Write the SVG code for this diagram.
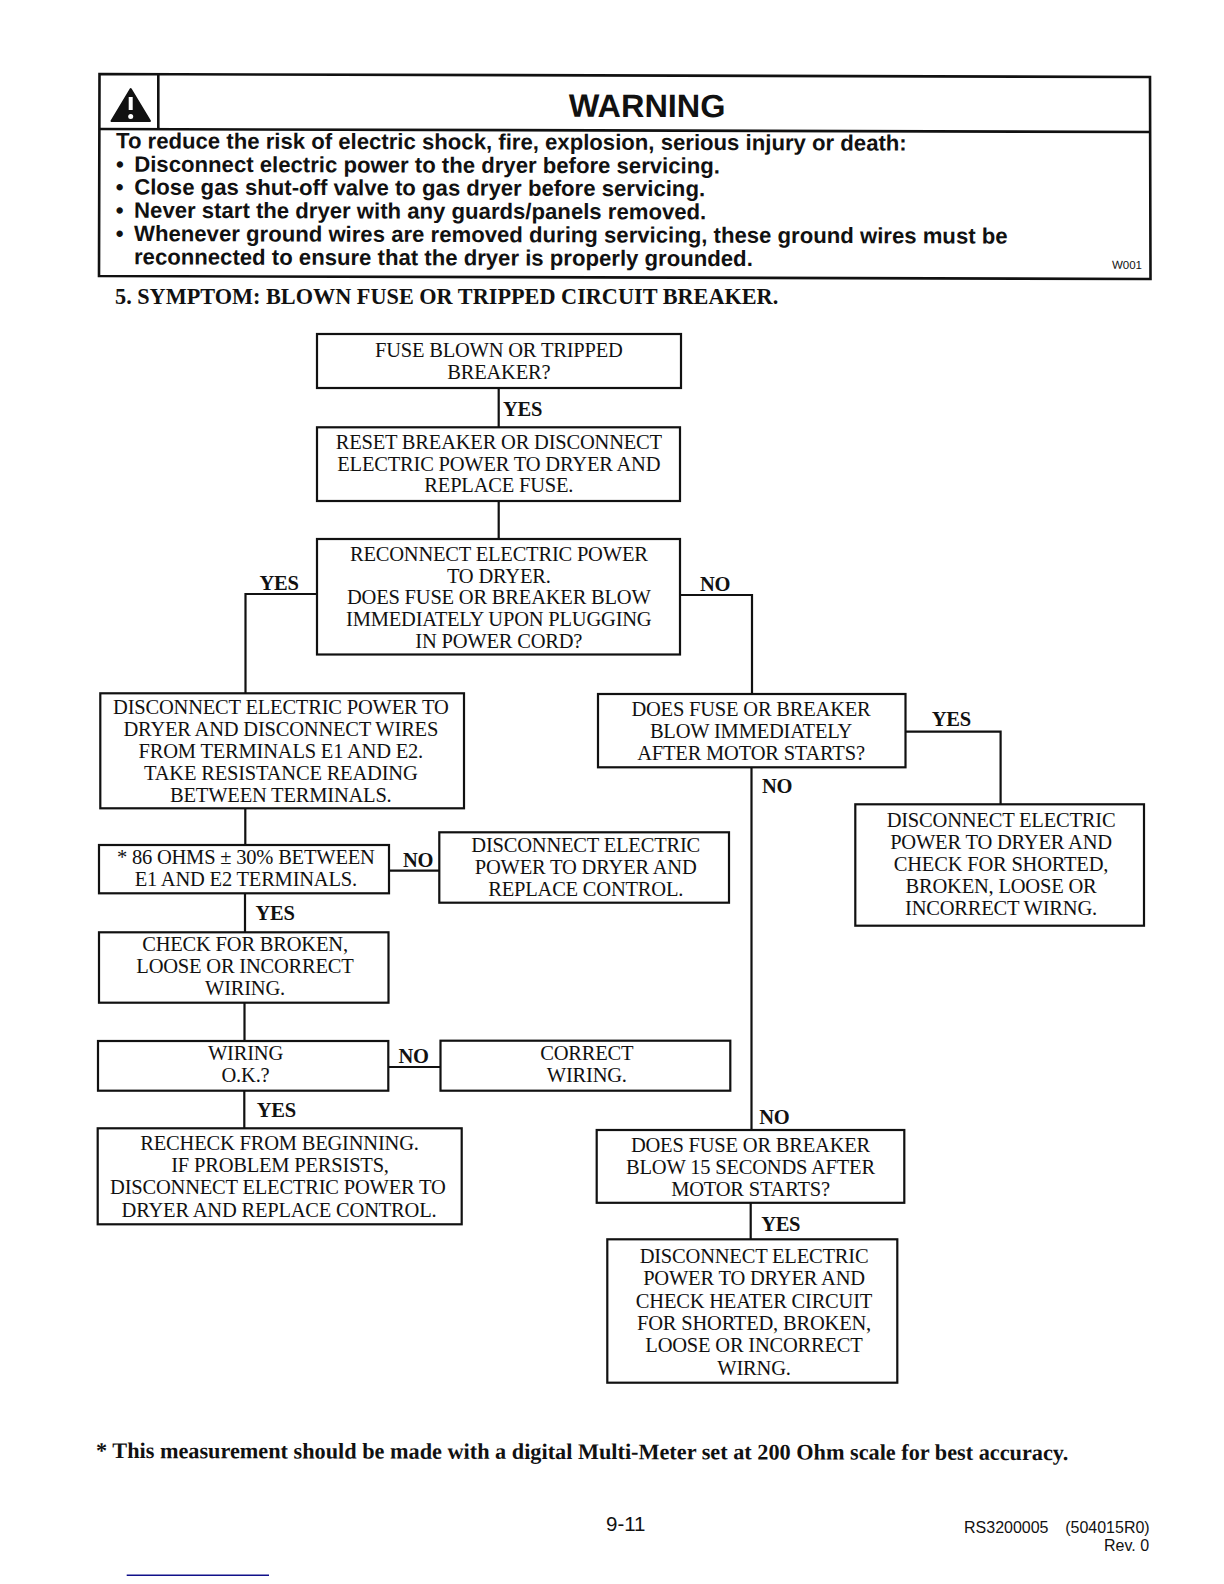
<svg xmlns="http://www.w3.org/2000/svg" width="1224" height="1584" viewBox="0 0 1224 1584">
<style>
.b{fill:#fff;stroke:#111;stroke-width:2.2}
.c{fill:none;stroke:#111;stroke-width:2.2}
.t{font-family:"Liberation Serif",serif;font-size:20.5px;fill:#111;text-anchor:middle;letter-spacing:-.2px}
.l{font-family:"Liberation Serif",serif;font-size:20.5px;font-weight:bold;fill:#111;letter-spacing:-.3px}
.w{font-family:"Liberation Sans",sans-serif;font-size:22.15px;font-weight:bold;fill:#111}
.f{font-family:"Liberation Sans",sans-serif;fill:#111}
.s{font-family:"Liberation Serif",serif;font-size:22.25px;font-weight:bold;fill:#111}
</style>
<rect width="1224" height="1584" fill="#fff"/>
<g id="warning">
<path class="c" d="M99.5 74L1150 77L1150.5 279L99 276Z" style="stroke-width:2.6"/>
<path class="c" d="M158.3 74V129M100 129L1150 132" style="stroke-width:2.6"/>
<path d="M130.7 89L150 121H111.5Z" fill="#111" stroke="#111" stroke-width="2" stroke-linejoin="round"/>
<path d="M130.7 97V110" stroke="#fff" stroke-width="4"/><circle cx="130.7" cy="116.5" r="2.5" fill="#fff"/>
<g transform="rotate(.165 116 148)">
<text x="647" y="115.5" text-anchor="middle" class="f" font-size="32.4" font-weight="bold">WARNING</text>
<text class="w"><tspan x="116" y="148.3">To reduce the risk of electric shock, fire, explosion, serious injury or death:</tspan><tspan x="116" y="171.7">•</tspan><tspan x="134.3" y="171.7">Disconnect electric power to the dryer before servicing.</tspan><tspan x="116" y="194.5">•</tspan><tspan x="134.3" y="194.5">Close gas shut-off valve to gas dryer before servicing.</tspan><tspan x="116" y="217.7">•</tspan><tspan x="134.3" y="217.7">Never start the dryer with any guards/panels removed.</tspan><tspan x="116" y="241">•</tspan><tspan x="134.3" y="241">Whenever ground wires are removed during servicing, these ground wires must be</tspan><tspan x="134.3" y="264.3">reconnected to ensure that the dryer is properly grounded.</tspan></text>
<text class="f" x="1112.3" y="266" font-size="11.5">W001</text>
</g>
</g>
<text id="title" class="s" x="115" y="303.5">5. SYMPTOM: BLOWN FUSE OR TRIPPED CIRCUIT BREAKER.</text>
<g id="connectors">
<path class="c" d="M498.7 388V427M498.7 501V539M317 594H245.5V693M680 595H752V694M751.5 767V1130M905.5 731.7H1000.6V804M245.3 808V845M389 870.7H439.3M245 893V932M244.5 1002.7V1041M388.3 1067H440M244.3 1090.7V1128.3M750.7 1202.3V1239.3"/>
</g>
<g id="n1"><rect class="b" x="317" y="334" width="364" height="54"/><text class="t" x="498.8" y="356.5">FUSE BLOWN OR TRIPPED</text><text class="t" x="498.8" y="378.5">BREAKER?</text></g>
<g id="n2"><rect class="b" x="317" y="427.3" width="363" height="73.7"/><text class="t" x="498.8" y="448.7">RESET BREAKER OR DISCONNECT</text><text class="t" x="498.8" y="470.5">ELECTRIC POWER TO DRYER AND</text><text class="t" x="498.8" y="492.3">REPLACE FUSE.</text></g>
<g id="n3"><rect class="b" x="317" y="539" width="363" height="115.5"/><text class="t" x="498.8" y="560.7">RECONNECT ELECTRIC POWER</text><text class="t" x="498.8" y="582.5">TO DRYER.</text><text class="t" x="498.8" y="604">DOES FUSE OR BREAKER BLOW</text><text class="t" x="498.8" y="626">IMMEDIATELY UPON PLUGGING</text><text class="t" x="498.8" y="648.3">IN POWER CORD?</text></g>
<g id="n4"><rect class="b" x="100.3" y="693.3" width="363.7" height="115"/><text class="t" x="280.8" y="714.3">DISCONNECT ELECTRIC POWER TO</text><text class="t" x="280.8" y="736">DRYER AND DISCONNECT WIRES</text><text class="t" x="280.8" y="757.7">FROM TERMINALS E1 AND E2.</text><text class="t" x="280.8" y="780">TAKE RESISTANCE READING</text><text class="t" x="280.8" y="801.7">BETWEEN TERMINALS.</text></g>
<g id="n5"><rect class="b" x="598" y="694" width="307.5" height="73.3"/><text class="t" x="751" y="716">DOES FUSE OR BREAKER</text><text class="t" x="751" y="738">BLOW IMMEDIATELY</text><text class="t" x="751" y="760">AFTER MOTOR STARTS?</text></g>
<g id="n6"><rect class="b" x="855.3" y="804.3" width="288.7" height="121.4"/><text class="t" x="1001" y="826.7">DISCONNECT ELECTRIC</text><text class="t" x="1001" y="849">POWER TO DRYER AND</text><text class="t" x="1001" y="871">CHECK FOR SHORTED,</text><text class="t" x="1001" y="893.3">BROKEN, LOOSE OR</text><text class="t" x="1001" y="915">INCORRECT WIRNG.</text></g>
<g id="n7"><rect class="b" x="99" y="845" width="290" height="48.3"/><text class="t" x="245.8" y="864.3">* 86 OHMS ± 30% BETWEEN</text><text class="t" x="245.8" y="886">E1 AND E2 TERMINALS.</text></g>
<g id="n8"><rect class="b" x="439.3" y="832.3" width="289.7" height="70.4"/><text class="t" x="585.7" y="852.3">DISCONNECT ELECTRIC</text><text class="t" x="585.7" y="874.3">POWER TO DRYER AND</text><text class="t" x="585.7" y="896">REPLACE CONTROL.</text></g>
<g id="n9"><rect class="b" x="99" y="932.3" width="289.5" height="70.4"/><text class="t" x="245" y="951.3">CHECK FOR BROKEN,</text><text class="t" x="245" y="973.3">LOOSE OR INCORRECT</text><text class="t" x="245" y="995">WIRING.</text></g>
<g id="n10"><rect class="b" x="98" y="1041" width="290.3" height="49.7"/><text class="t" x="245.5" y="1060">WIRING</text><text class="t" x="245.5" y="1082">O.K.?</text></g>
<g id="n11"><rect class="b" x="440.5" y="1040.7" width="289.8" height="50"/><text class="t" x="586.8" y="1060">CORRECT</text><text class="t" x="586.8" y="1082.3">WIRING.</text></g>
<g id="n12"><rect class="b" x="97.7" y="1128.3" width="364" height="96"/><text class="t" x="279.5" y="1149.7">RECHECK FROM BEGINNING.</text><text class="t" x="280" y="1171.7">IF PROBLEM PERSISTS,</text><text class="t" x="277.8" y="1194">DISCONNECT ELECTRIC POWER TO</text><text class="t" x="279" y="1216.7">DRYER AND REPLACE CONTROL.</text></g>
<g id="n13"><rect class="b" x="596.7" y="1130" width="307.6" height="72.8"/><text class="t" x="750.5" y="1151.7">DOES FUSE OR BREAKER</text><text class="t" x="750.5" y="1173.7">BLOW 15 SECONDS AFTER</text><text class="t" x="750.5" y="1195.7">MOTOR STARTS?</text></g>
<g id="n14"><rect class="b" x="607.3" y="1239.3" width="290" height="143.4"/><text class="t" x="754" y="1263.3">DISCONNECT ELECTRIC</text><text class="t" x="754" y="1285.3">POWER TO DRYER AND</text><text class="t" x="754" y="1307.7">CHECK HEATER CIRCUIT</text><text class="t" x="754" y="1330">FOR SHORTED, BROKEN,</text><text class="t" x="754" y="1352.3">LOOSE OR INCORRECT</text><text class="t" x="754" y="1374.6">WIRNG.</text></g>
<g id="labels">
<text class="l" x="503" y="415.7">YES</text><text class="l" x="259.5" y="590">YES</text><text class="l" x="700" y="591">NO</text><text class="l" x="931.8" y="725.7">YES</text><text class="l" x="762" y="792.7">NO</text><text class="l" x="403" y="866.7">NO</text><text class="l" x="255.5" y="920">YES</text><text class="l" x="398.5" y="1062.8">NO</text><text class="l" x="256.8" y="1116.7">YES</text><text class="l" x="759.3" y="1124">NO</text><text class="l" x="761.2" y="1231">YES</text>
</g>
<text id="note" class="s" x="96" y="1458" transform="rotate(.12 96 1458)">* This measurement should be made with a digital Multi-Meter set at 200 Ohm scale for best accuracy.</text>
<text class="f" x="606" y="1531" font-size="20.5">9-11</text>
<text class="f" x="964" y="1533" font-size="16">RS3200005</text>
<text class="f" x="1065.2" y="1533" font-size="16">(504015R0)</text>
<text class="f" x="1104" y="1551.3" font-size="16">Rev. 0</text>
<path d="M126.7 1575.3H269" stroke="#10108a" stroke-width="1.5"/>
</svg>
